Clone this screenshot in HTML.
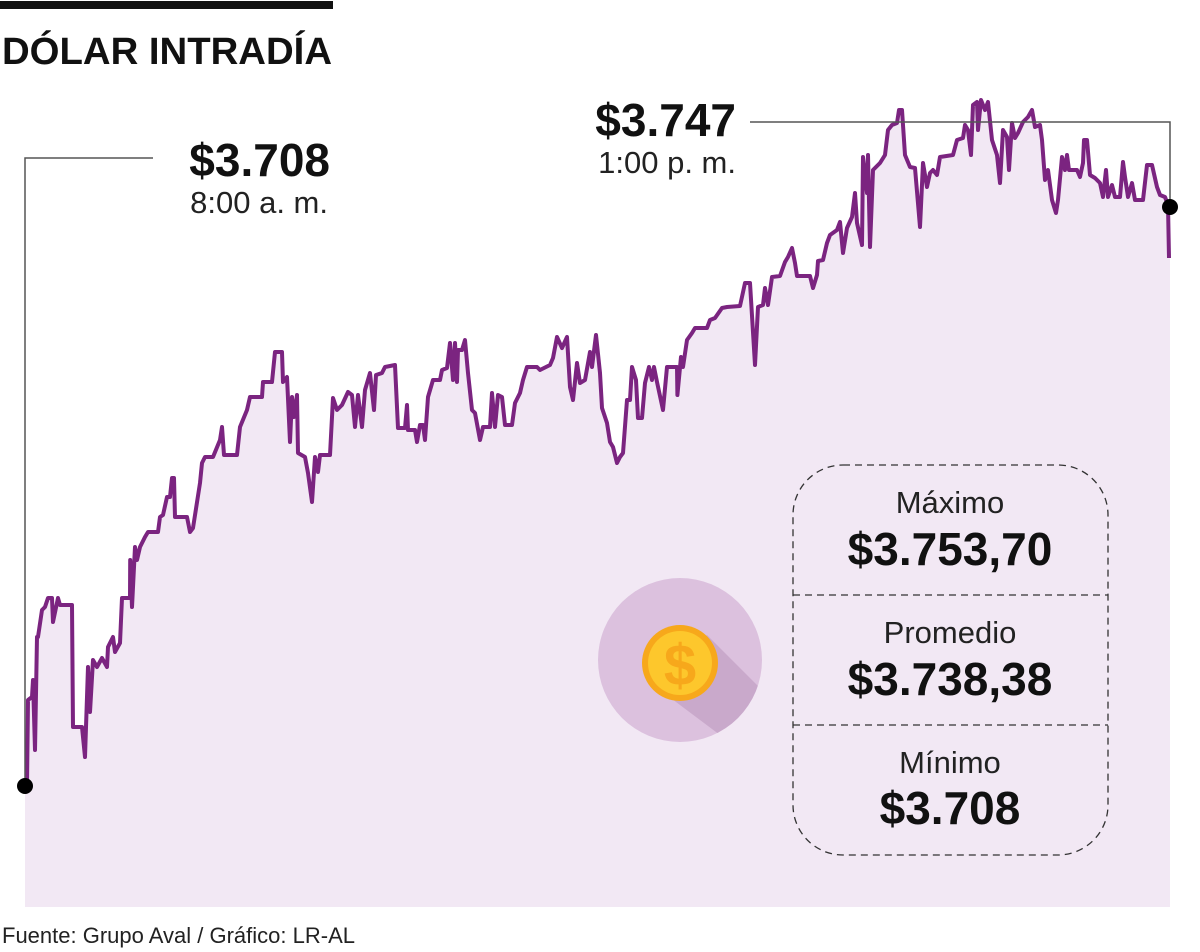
<!DOCTYPE html>
<html><head><meta charset="utf-8">
<style>
html,body{margin:0;padding:0;background:#fff;}
body{width:1200px;height:952px;position:relative;overflow:hidden;font-family:"Liberation Sans",sans-serif;}
svg{position:absolute;left:0;top:0;}
</style></head>
<body>
<svg width="1200" height="952" viewBox="0 0 1200 952">
  <rect x="0" y="1" width="333" height="8" fill="#111"/>
  <text x="2" y="64" font-size="38" font-weight="bold" fill="#111" textLength="330" lengthAdjust="spacingAndGlyphs">DÓLAR INTRADÍA</text>
  <g id="plot"></g>
  <g>
    <polyline points="25,786 25,158 153,158" fill="none" stroke="#555" stroke-width="1.5"/>
    <text x="330" y="176" font-size="46" font-weight="bold" text-anchor="end" fill="#111">$3.708</text>
    <text x="328" y="213" font-size="31" text-anchor="end" fill="#222">8:00 a. m.</text>
  </g>
  <g>
    <polyline points="1170,207 1170,122 750,122" fill="none" stroke="#555" stroke-width="1.5"/>
    <text x="736" y="136" font-size="46" font-weight="bold" text-anchor="end" fill="#111">$3.747</text>
    <text x="736" y="173" font-size="31" text-anchor="end" fill="#222">1:00 p. m.</text>
  </g>
  <circle cx="25" cy="786" r="8" fill="#000"/>
  <circle cx="1170" cy="207" r="8" fill="#000"/>
  <g>
    <clipPath id="cc"><circle cx="680" cy="660" r="82"/></clipPath>
    <circle cx="680" cy="660" r="82" fill="#dcc1de"/>
    <polygon points="707,635 800,728 780,780 660,690" fill="#c9a9cb" clip-path="url(#cc)"/>
    <circle cx="680" cy="663" r="38" fill="#f7a81b"/>
    <circle cx="680" cy="663" r="32" fill="#fdc72c"/>
    <text x="680" y="685" font-size="58" font-weight="bold" text-anchor="middle" fill="#f7a81b">$</text>
  </g>
  <g>
    <rect x="793" y="465" width="315" height="390" rx="50" ry="50" fill="none" stroke="#333" stroke-width="1.3" stroke-dasharray="7,5"/>
    <line x1="793" y1="595" x2="1108" y2="595" stroke="#333" stroke-width="1.3" stroke-dasharray="7,5"/>
    <line x1="793" y1="725" x2="1108" y2="725" stroke="#333" stroke-width="1.3" stroke-dasharray="7,5"/>
    <text x="950" y="513" font-size="31" text-anchor="middle" fill="#222">Máximo</text>
    <text x="950" y="565" font-size="46" font-weight="bold" text-anchor="middle" fill="#111">$3.753,70</text>
    <text x="950" y="643" font-size="31" text-anchor="middle" fill="#222">Promedio</text>
    <text x="950" y="695" font-size="46" font-weight="bold" text-anchor="middle" fill="#111">$3.738,38</text>
    <text x="950" y="773" font-size="31" text-anchor="middle" fill="#222">Mínimo</text>
    <text x="950" y="824" font-size="46" font-weight="bold" text-anchor="middle" fill="#111">$3.708</text>
  </g>
  <text x="2" y="943" font-size="22" fill="#222">Fuente: Grupo Aval / Gráfico: LR-AL</text>
</svg>
<script>
const minutes=[0.5,0.75,1.75,2,2.5,3,3.25,4.25,5,5.75,6.75,7,8.25,8.75,11.75,12,14.25,15,15.75,16.25,17,18,19.25,20.5,20.75,22,22.5,23.75,24.25,26.25,26.3,26.75,27.5,28,28.75,30,30.75,33.25,33.75,34.5,35.5,36.25,36.75,37.25,37.5,40.5,41.25,42,43.75,44.25,45,47,48.75,49.25,49.75,53,53.75,55.5,56.25,59.25,59.5,61.75,62.5,64.25,64.5,65.5,66.25,66.75,67.25,68,68.25,70,70.75,71.75,72.5,73.25,73.75,76.25,77,78,79.25,80.75,81.75,82.5,83.25,84.25,85,86.25,87.25,87.75,89.25,90,92.5,93.25,95,95.5,95.75,97.5,98,98.75,99.5,100,100.75,102,103.75,104.25,105.5,106.25,107,107.5,108,108.25,109.25,110,110.75,111.75,112.5,113.75,114.5,116.25,116.75,117.5,118.25,119.25,120,121.75,122.5,123.75,124.5,125.5,128,128.75,131.25,132,133,134.25,135.5,136.25,137,138,138.75,140,141.25,141.75,142.75,143.75,144.25,145.5,146.25,147,148,148.75,149.5,150.5,151.25,151.75,152.75,153.25,154.25,155,156,156.75,157.25,158,159.5,160.5,163,163.1,164,164.5,165.5,166.75,167.5,170.5,171.25,172.5,174.25,175.5,178.75,180,181.25,182.5,183.25,184.5,185,185.75,186.75,188.75,190,190.75,191.75,192.5,193,196.25,197,198,198.25,199.5,200.5,201.25,203,203.75,204.5,205.5,206.75,207.5,208,209.25,209.5,210.5,210.75,211.25,212,213.75,215,215.75,216.75,218,218.5,219.25,220,221.25,222.5,223.75,224.5,225.5,226.25,227,228,228.75,232,233,234.5,235,235.75,236.5,237,238,238.25,239,240,240.75,241.75,243,243.75,244.5,245.5,246,246.75,247.5,248.25,249.5,250.75,251.75,252.5,253.75,254.25,255,255.75,256.75,257.75,258.25,259.25,260,260.5,261,263,263.75,264.5,264.75,265.5,266.25,267.5,268.75,269.5,270.25,270.75,271.75,272.5,273.75,274.5,275,275.75,276.75,277.5,279.5,280.5,281.75,283,283.75,285,285.75,286];
const prices=[3708.05,3712.30,3712.45,3713.30,3709.80,3715.45,3715.45,3716.80,3716.95,3717.40,3717.40,3716.20,3717.40,3717.05,3717.05,3710.95,3710.95,3709.45,3713.95,3711.70,3714.30,3713.95,3714.40,3713.95,3714.95,3715.45,3714.70,3715.15,3717.40,3717.40,3719.30,3716.95,3719.95,3719.30,3719.95,3720.45,3720.70,3720.70,3721.45,3721.55,3722.45,3722.45,3723.40,3723.40,3721.45,3721.45,3720.70,3720.90,3723.15,3724.15,3724.45,3724.45,3725.30,3725.95,3724.55,3724.55,3725.95,3726.80,3727.45,3727.45,3728.20,3728.20,3729.70,3729.70,3728.20,3728.45,3725.20,3727.45,3726.45,3727.55,3724.65,3724.45,3723.65,3722.20,3724.45,3723.70,3724.55,3724.55,3727.40,3726.80,3727.05,3727.70,3727.55,3725.95,3727.55,3725.95,3727.80,3728.65,3726.80,3728.55,3728.65,3728.95,3729.05,3725.90,3725.90,3727.05,3725.80,3725.80,3725.20,3726.05,3726.05,3725.30,3727.45,3728.30,3728.30,3728.80,3728.90,3730.15,3728.30,3730.15,3728.20,3729.80,3729.80,3730.30,3728.65,3726.80,3726.65,3725.30,3725.95,3725.95,3727.65,3725.95,3727.55,3727.45,3726.05,3726.05,3727.15,3727.65,3728.30,3728.95,3728.95,3728.80,3729.05,3729.40,3730.45,3729.90,3730.45,3727.95,3727.30,3729.15,3728.15,3728.30,3729.70,3728.95,3730.55,3728.65,3726.90,3726.15,3725.20,3724.95,3724.15,3724.45,3724.65,3727.30,3727.30,3728.95,3728.30,3726.40,3726.40,3728.15,3728.95,3728.30,3728.95,3728.20,3726.80,3728.95,3728.95,3727.55,3729.45,3728.95,3730.30,3730.65,3730.90,3730.90,3731.30,3731.40,3731.90,3731.95,3732.00,3733.15,3733.15,3729.05,3731.95,3732.05,3732.90,3732.05,3733.45,3733.50,3734.20,3734.45,3734.90,3734.15,3733.50,3733.50,3732.90,3733.55,3734.25,3734.30,3735.15,3735.55,3735.80,3736.20,3734.65,3735.90,3736.45,3737.65,3736.15,3735.05,3739.45,3737.65,3739.55,3734.95,3738.80,3739.15,3739.55,3740.80,3741.05,3741.15,3741.80,3741.80,3739.55,3738.95,3738.90,3735.95,3739.15,3737.95,3738.65,3738.80,3738.55,3739.45,3739.55,3740.30,3740.40,3741.05,3740.80,3739.55,3742.05,3742.20,3740.80,3742.30,3741.80,3742.20,3740.30,3739.55,3738.15,3740.80,3740.45,3738.80,3741.15,3740.40,3740.65,3741.20,3741.45,3741.80,3740.95,3741.05,3740.30,3738.30,3738.80,3737.30,3736.65,3737.30,3739.45,3738.80,3739.55,3738.80,3738.80,3738.45,3739.15,3740.30,3740.30,3738.55,3738.40,3738.15,3737.45,3738.80,3737.45,3738.05,3737.45,3737.45,3739.20,3738.45,3737.45,3738.15,3737.30,3737.30,3739.05,3739.05,3737.95,3737.55,3737.45,3737.05,3734.40];
const xScale=m=>25+m*4;
const yScale=p=>786-(p-3708)*20;
const NS="http://www.w3.org/2000/svg";
const plot=document.getElementById('plot');
const pts=minutes.map((m,i)=>xScale(m).toFixed(2)+','+yScale(prices[i]).toFixed(2));
const lastX=Math.max(xScale(minutes[minutes.length-1]),1170);
const area=document.createElementNS(NS,'polygon');
area.setAttribute('points','25,907 25,'+yScale(prices[0]).toFixed(2)+' '+pts.join(' ')+' '+lastX+','+yScale(prices[prices.length-1]).toFixed(2)+' '+lastX+',907');
area.setAttribute('fill','#f2e8f4');


plot.appendChild(area);
const line=document.createElementNS(NS,'polyline');
line.setAttribute('points',pts.join(' '));
line.setAttribute('fill','none');
line.setAttribute('stroke','#7b2480');
line.setAttribute('stroke-width','4');
line.setAttribute('stroke-linejoin','round');


plot.appendChild(line);
</script>
</body></html>
